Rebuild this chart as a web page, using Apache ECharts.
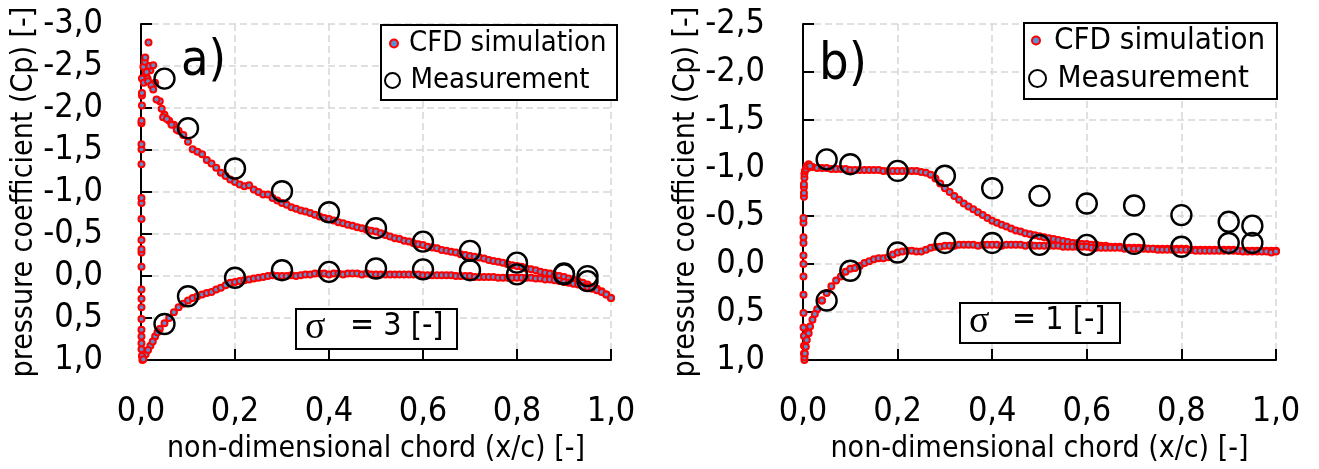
<!DOCTYPE html>
<html>
<head>
<meta charset="utf-8">
<title>Pressure coefficient</title>
<script src="https://cdn.jsdelivr.net/npm/echarts@6/dist/echarts.min.js"></script>
<style>
  html, body { margin: 0; padding: 0; background: #fff; }
  #chart { width: 1319px; height: 469px; }
</style>
</head>
<body>
<div id="chart"></div>
<script>
// chord stations of the CFD surface points (x/c)
const chordX = [
  0.01, 0.02, 0.03, 0.04, 0.05, 0.06, 0.07, 0.08, 0.09, 0.10,
  0.11, 0.12, 0.13, 0.14, 0.15, 0.16, 0.17, 0.18, 0.19, 0.20,
  0.21, 0.22, 0.23, 0.24, 0.25, 0.26, 0.27, 0.28, 0.29, 0.30,
  0.31, 0.32, 0.33, 0.34, 0.35, 0.36, 0.37, 0.38, 0.39, 0.40,
  0.41, 0.42, 0.43, 0.44, 0.45, 0.46, 0.47, 0.48, 0.49, 0.50,
  0.51, 0.52, 0.53, 0.54, 0.55, 0.56, 0.57, 0.58, 0.59, 0.60,
  0.61, 0.62, 0.63, 0.64, 0.65, 0.66, 0.67, 0.68, 0.69, 0.70,
  0.71, 0.72, 0.73, 0.74, 0.75, 0.76, 0.77, 0.78, 0.79, 0.80,
  0.81, 0.82, 0.83, 0.84, 0.85, 0.86, 0.87, 0.88, 0.89, 0.90,
  0.91, 0.92, 0.93, 0.94, 0.95, 0.96, 0.97, 0.98, 0.99, 1.00
]

// a) sigma = 3
const cpUpperA = [
  -2.42, -2.45, -2.30, -2.08, -1.92, -1.85, -1.80, -1.73, -1.68, -1.60,
  -1.51, -1.48, -1.45, -1.38, -1.34, -1.29, -1.23, -1.19, -1.15, -1.12,
  -1.09, -1.07, -1.08, -1.03, -1.00, -0.97, -0.97, -0.93, -0.90, -0.87,
  -0.85, -0.82, -0.80, -0.78, -0.77, -0.75, -0.73, -0.71, -0.69, -0.68,
  -0.66, -0.64, -0.63, -0.61, -0.60, -0.58, -0.57, -0.55, -0.54, -0.53,
  -0.51, -0.49, -0.47, -0.45, -0.44, -0.42, -0.41, -0.39, -0.38, -0.37,
  -0.35, -0.34, -0.33, -0.31, -0.30, -0.29, -0.28, -0.26, -0.25, -0.24,
  -0.23, -0.22, -0.21, -0.19, -0.18, -0.17, -0.16, -0.14, -0.13, -0.12,
  -0.11, -0.09, -0.08, -0.07, -0.05, -0.04, -0.03, -0.01, 0.00, 0.01,
  0.03, 0.04, 0.06, 0.08, 0.10, 0.13, 0.15, 0.18, 0.22, 0.26
]
const cpLowerA = [
  0.93, 0.83, 0.72, 0.63, 0.56, 0.50, 0.43, 0.37, 0.33, 0.29,
  0.26, 0.24, 0.22, 0.20, 0.19, 0.16, 0.14, 0.11, 0.08, 0.07,
  0.06, 0.05, 0.04, 0.03, 0.02, 0.01, 0.00, -0.01, 0.00, 0.00,
  0.00, -0.01, 0.00, -0.01, -0.02, -0.02, -0.03, -0.03, -0.03, -0.02,
  -0.03, -0.03, -0.02, -0.03, -0.03, -0.03, -0.02, -0.03, -0.02, -0.02,
  -0.02, -0.02, -0.02, -0.02, -0.02, -0.02, -0.02, -0.02, -0.02, -0.01,
  -0.01, -0.01, -0.01, -0.01, -0.01, -0.01, 0.00, 0.00, 0.00, 0.00,
  0.01, 0.01, 0.01, 0.01, 0.01, 0.02, 0.02, 0.02, 0.02, 0.02,
  0.02, 0.02, 0.02, 0.03, 0.03, 0.04, 0.04, 0.05, 0.06, 0.07,
  0.08, 0.09, 0.10, 0.12, 0.13, 0.15, 0.17, 0.19, 0.22, 0.26
]
// points wrapped round the leading edge [x/c, Cp]
const leadingEdgeA = [
  [0.003, 1.00], [0.002, 0.95], [0.001, 0.87], [0.001, 0.80], [0.001, 0.72],
  [0.001, 0.64], [0.001, 0.51], [0.001, 0.37], [0.001, 0.27], [0.001, 0.16],
  [0.001, -0.11], [0.001, -0.28], [0.001, -0.32], [0.001, -0.43], [0.001, -0.68],
  [0.001, -0.87], [0.001, -0.93], [0.001, -1.33], [0.001, -1.51], [0.001, -1.57],
  [0.001, -1.82], [0.001, -1.85], [0.002, -2.03], [0.002, -2.15], [0.002, -2.18],
  [0.002, -2.35], [0.005, -2.49], [0.006, -2.30], [0.008, -2.55], [0.009, -2.60],
  [0.012, -2.43], [0.014, -2.35], [0.015, -2.32], [0.016, -2.78], [0.018, -2.50],
  [0.022, -2.27], [0.026, -2.51], [0.026, -2.22], [0.033, -2.10], [0.044, -1.99],
  [0.047, -1.89], [0.055, -1.87], [0.065, -1.80], [0.076, -1.74],
  [0.005, 0.99], [0.015, 0.88], [0.025, 0.78], [0.035, 0.67]
]

// b) sigma = 1
const cpUpperB = [
  -1.00, -1.01, -1.00, -1.00, -1.00, -0.99, -0.99, -0.99, -0.99, -0.98,
  -0.98, -0.98, -0.98, -0.98, -0.98, -0.98, -0.97, -0.97, -0.97, -0.97,
  -0.97, -0.97, -0.97, -0.97, -0.96, -0.95, -0.93, -0.89, -0.84, -0.79,
  -0.75, -0.71, -0.67, -0.63, -0.60, -0.57, -0.54, -0.51, -0.48, -0.45,
  -0.43, -0.41, -0.39, -0.37, -0.35, -0.34, -0.32, -0.31, -0.30, -0.29,
  -0.28, -0.27, -0.26, -0.25, -0.24, -0.23, -0.22, -0.22, -0.21, -0.21,
  -0.20, -0.20, -0.19, -0.19, -0.18, -0.18, -0.18, -0.17, -0.17, -0.17,
  -0.17, -0.17, -0.16, -0.16, -0.16, -0.16, -0.16, -0.16, -0.16, -0.16,
  -0.16, -0.15, -0.15, -0.15, -0.15, -0.15, -0.15, -0.15, -0.15, -0.15,
  -0.15, -0.14, -0.14, -0.14, -0.14, -0.14, -0.14, -0.14, -0.14, -0.14
]
const cpLowerB = [
  0.70, 0.58, 0.47, 0.38, 0.30, 0.23, 0.17, 0.13, 0.08, 0.05,
  0.04, 0.02, -0.01, -0.03, -0.05, -0.06, -0.06, -0.07, -0.10, -0.12,
  -0.13, -0.14, -0.14, -0.13, -0.13, -0.15, -0.17, -0.18, -0.18, -0.19,
  -0.19, -0.19, -0.20, -0.20, -0.20, -0.20, -0.19, -0.20, -0.20, -0.20,
  -0.20, -0.19, -0.20, -0.20, -0.20, -0.20, -0.19, -0.20, -0.19, -0.19,
  -0.19, -0.19, -0.19, -0.19, -0.18, -0.18, -0.18, -0.18, -0.18, -0.18,
  -0.17, -0.17, -0.17, -0.17, -0.17, -0.17, -0.17, -0.16, -0.16, -0.16,
  -0.16, -0.16, -0.16, -0.16, -0.15, -0.15, -0.15, -0.15, -0.15, -0.15,
  -0.15, -0.15, -0.14, -0.14, -0.14, -0.14, -0.14, -0.14, -0.14, -0.14,
  -0.14, -0.14, -0.13, -0.13, -0.13, -0.13, -0.13, -0.13, -0.12, -0.13
]
const leadingEdgeB = [
  [0.003, 1.00], [0.003, 0.97], [0.002, 0.93], [0.002, 0.85], [0.002, 0.75],
  [0.001, 0.66], [0.001, 0.51], [0.001, 0.32], [0.001, 0.13], [0.001, 0.00],
  [0.001, -0.09], [0.001, -0.22], [0.001, -0.28], [0.001, -0.43], [0.001, -0.48],
  [0.002, -0.70], [0.002, -0.74], [0.002, -0.80], [0.002, -0.83], [0.003, -0.90],
  [0.003, -0.94], [0.004, -0.97], [0.006, -0.99], [0.008, -1.02], [0.012, -1.04],
  [0.015, -1.02], [0.004, 0.93], [0.006, 0.86], [0.008, 0.79], [0.012, 0.72],
  [0.015, 0.65], [0.025, 0.52], [0.04, 0.38]
]

// measurement taps
const measX = [0.05, 0.1, 0.2, 0.3, 0.4, 0.5, 0.6, 0.7, 0.8, 0.9, 0.95]
const measUpperA = [-2.35, -1.76, -1.28, -1.01, -0.76, -0.57, -0.41, -0.30, -0.16, -0.03, 0.00]
const measLowerA = [0.57, 0.24, 0.02, -0.07, -0.05, -0.09, -0.08, -0.07, -0.02, -0.02, 0.06]
const measUpperB = [-1.09, -1.04, -0.97, -0.92, -0.79, -0.71, -0.63, -0.61, -0.51, -0.44, -0.40]
const measLowerB = [0.38, 0.07, -0.12, -0.22, -0.22, -0.20, -0.20, -0.21, -0.18, -0.22, -0.22]

const FONT = "'DejaVu Sans Condensed', 'Liberation Sans', sans-serif"

function zip(xs, ys) {
  return xs.map((x, i) => [x, ys[i]])
}

function commaLabel(v) {
  return v.toFixed(1).replace('.', ',')
}

function xAxisFor(gridIndex) {
  return {
    type: 'value',
    gridIndex: gridIndex,
    min: 0,
    max: 1,
    interval: 0.2,
    name: 'non-dimensional chord (x/c) [-]',
    nameLocation: 'middle',
    nameGap: 66,
    nameTextStyle: { fontSize: 30, color: '#000', fontFamily: FONT },
    axisLine: { onZero: false, lineStyle: { color: '#000', width: 2 } },
    axisTick: { inside: true, length: 11, lineStyle: { color: '#000', width: 2 } },
    axisLabel: { formatter: commaLabel, fontSize: 34, color: '#000', margin: 35, fontFamily: FONT },
    splitLine: { show: true, lineStyle: { color: '#d6d6d6', type: [7, 4], width: 1.5 } }
  }
}

function yAxisFor(gridIndex, yMin) {
  return {
    type: 'value',
    gridIndex: gridIndex,
    inverse: true,
    min: yMin,
    max: 1,
    interval: 0.5,
    name: 'pressure coefficient (Cp) [-]',
    nameLocation: 'middle',
    nameGap: 96,
    nameTextStyle: { fontSize: 30, color: '#000', fontFamily: FONT },
    axisLine: { onZero: false, lineStyle: { color: '#000', width: 2 } },
    axisTick: { inside: true, length: 11, lineStyle: { color: '#000', width: 2 } },
    axisLabel: { formatter: commaLabel, fontSize: 34, color: '#000', margin: 38, fontFamily: FONT },
    splitLine: { show: true, lineStyle: { color: '#d6d6d6', type: [7, 4], width: 1.5 } }
  }
}

function cfdSeries(idx, data) {
  return {
    name: 'CFD simulation',
    type: 'scatter',
    xAxisIndex: idx,
    yAxisIndex: idx,
    data: data,
    symbol: 'circle',
    symbolSize: 6,
    itemStyle: { color: '#5b8fd0', borderColor: '#ff0000', borderWidth: 2, opacity: 1 },
    emphasis: { disabled: true },
    z: 2
  }
}

function measSeries(idx, data) {
  return {
    name: 'Measurement',
    type: 'scatter',
    xAxisIndex: idx,
    yAxisIndex: idx,
    data: data,
    symbol: 'circle',
    symbolSize: 20,
    itemStyle: { color: 'rgba(0,0,0,0)', borderColor: '#000', borderWidth: 2.4, opacity: 1 },
    emphasis: { disabled: true },
    z: 3
  }
}

function legendItem(name, left, top, w, h, size) {
  return {
    data: [name],
    orient: 'vertical',
    left: left,
    top: top,
    padding: 0,
    itemWidth: w,
    itemHeight: h,
    selectedMode: false,
    textStyle: { fontSize: size, color: '#000', fontFamily: FONT }
  }
}

function boxRect(x, y, w, h) {
  return {
    type: 'rect',
    z: 1,
    shape: { x: x, y: y, width: w, height: h },
    style: { fill: '#fff', stroke: '#000', lineWidth: 2 }
  }
}

function label(text, left, top, size, family) {
  return {
    type: 'text',
    z: 5,
    left: left,
    top: top,
    style: { text: text, fontSize: size, fontFamily: family || FONT, fill: '#000' }
  }
}

const cfdA = zip(chordX, cpUpperA).concat(zip(chordX, cpLowerA), leadingEdgeA)
const cfdB = zip(chordX, cpUpperB).concat(zip(chordX, cpLowerB), leadingEdgeB)
const measA = zip(measX, measUpperA).concat(zip(measX, measLowerA))
const measB = zip(measX, measUpperB).concat(zip(measX, measLowerB))

const chart = echarts.init(document.getElementById('chart'))

chart.setOption({
  animation: false,
  backgroundColor: '#fff',
  grid: [
    { left: 141, top: 24, width: 470, height: 347 },
    { left: 803, top: 24, width: 473, height: 343 }
  ],
  xAxis: [xAxisFor(0), xAxisFor(1)],
  yAxis: [yAxisFor(0, -3), yAxisFor(1, -2.5)],
  legend: [
    legendItem('CFD simulation', 389, 29, 20, 8, 29),
    legendItem('Measurement', 384, 66, 26, 15, 29),
    legendItem('CFD simulation', 1031, 25, 26, 8, 31),
    legendItem('Measurement', 1028, 63, 30, 17, 31)
  ],
  graphic: [
    boxRect(381, 25, 236, 75),
    boxRect(1024, 23, 253, 76),
    boxRect(296, 309, 161, 40),
    boxRect(960, 303, 160, 40),
    label('a)', 181, 37, 50),
    label('b)', 819, 39, 52),
    label('σ', 305, 309, 38, "'Liberation Serif', serif"),
    label('= 3 [-]', 350, 311, 32),
    label('σ', 969, 303, 38, "'Liberation Serif', serif"),
    label('= 1 [-]', 1012, 305, 32)
  ],
  series: [
    cfdSeries(0, cfdA),
    measSeries(0, measA),
    cfdSeries(1, cfdB),
    measSeries(1, measB)
  ]
})

window.addEventListener('resize', () => { chart.resize() })
</script>
</body>
</html>
